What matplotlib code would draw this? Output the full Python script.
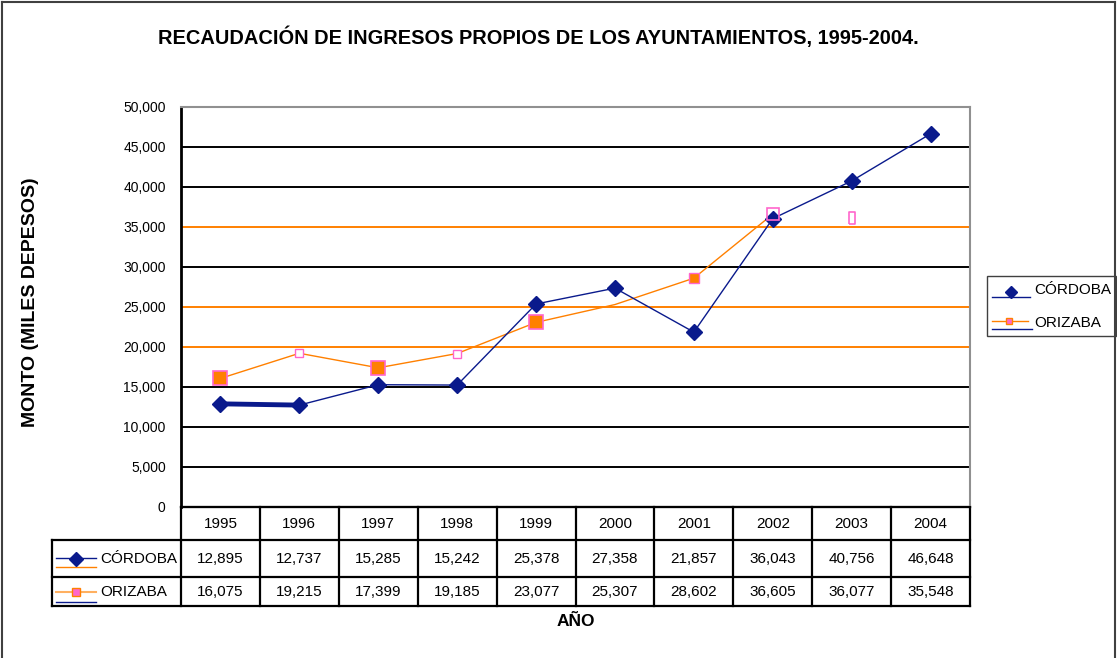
import matplotlib
matplotlib.use("Agg")
import matplotlib.pyplot as plt
from matplotlib.lines import Line2D
from matplotlib.patches import Rectangle

years = ["1995", "1996", "1997", "1998", "1999", "2000", "2001", "2002", "2003", "2004"]
cordoba = [12895, 12737, 15285, 15242, 25378, 27358, 21857, 36043, 40756, 46648]
orizaba = [16075, 19215, 17399, 19185, 23077, 25307, 28602, 36605, 36077, 35548]
yticks = [0, 5000, 10000, 15000, 20000, 25000, 30000, 35000, 40000, 45000, 50000]
orange_grid = [20000, 25000, 35000]

NAVY = "#0a1a8c"
ORANGE = "#ff8000"
PINK = "#ff66cc"
W, H = 1117, 658

plt.rcParams["font.family"] = ["Liberation Sans", "DejaVu Sans"]

fig = plt.figure(figsize=(W / 100, H / 100), dpi=100)
fig.patch.set_facecolor("white")


def fx(px):
    return px / W


def fy(py):
    return 1 - py / H


# plot area 181..970 x 107..507 px
ax = fig.add_axes([fx(181), fy(507), fx(970) - fx(181), fy(107) - fy(507)])
ax.set_xlim(-0.5, len(years) - 0.5)
ax.set_ylim(0, 50000)
ax.set_xticks([])
ax.set_yticks(yticks)
ax.set_yticklabels([f"{v:,}" for v in yticks], fontsize=10)
ax.tick_params(axis="y", length=0, pad=11)

for s in ["top", "right"]:
    ax.spines[s].set_color("#909090")
    ax.spines[s].set_linewidth(1.5)
ax.spines["left"].set_color("black")
ax.spines["left"].set_linewidth(2)
ax.spines["bottom"].set_color("black")
ax.spines["bottom"].set_linewidth(1.5)

for v in yticks[1:-1]:
    ax.axhline(v, color=ORANGE if v in orange_grid else "black", lw=1.4, zorder=1)

x = list(range(len(years)))

# CÓRDOBA series
ax.plot(x, cordoba, color=NAVY, lw=1, marker="D", markersize=8.5, zorder=4)
ax.plot(x[:2], cordoba[:2], color=NAVY, lw=3.5, zorder=4)

# ORIZABA series: line stops at 2002, mixed markers
ax.plot(x[:8], orizaba[:8], color=ORANGE, lw=1, zorder=3)
big = [0, 2, 4]
ax.plot([x[i] for i in big], [orizaba[i] for i in big], ls="none", marker="s",
        markersize=10, markerfacecolor=ORANGE, markeredgecolor=PINK, markeredgewidth=1.2, zorder=5)
ax.plot([x[6]], [orizaba[6]], ls="none", marker="s", markersize=7,
        markerfacecolor=ORANGE, markeredgecolor=PINK, markeredgewidth=1, zorder=5)
small = [1, 3]
ax.plot([x[i] for i in small], [orizaba[i] for i in small], ls="none", marker="s",
        markersize=6, markerfacecolor="white", markeredgecolor=PINK, markeredgewidth=1, zorder=5)
ax.plot([x[7]], [orizaba[7]], ls="none", marker="s", markersize=8,
        markerfacecolor="none", markeredgecolor=PINK, markeredgewidth=1.2, zorder=5)
ax.plot([x[8]], [orizaba[8]], ls="none", marker=[(-0.5, -1), (0.5, -1), (0.5, 1), (-0.5, 1), (-0.5, -1)],
        markersize=8, markerfacecolor="none", markeredgecolor=PINK, markeredgewidth=1.2, zorder=5)

# data table below the plot
tr = ax.get_xaxis_transform()


def ay(py):
    return (507 - py) / 400


rows = [507, 540, 577, 606]
xlab = -0.5 - (181 - 52) / (789 / len(years))
lw_t = 1.6
ax.plot([-0.5, len(years) - 0.5], [ay(507)] * 2, color="black", lw=lw_t, transform=tr, clip_on=False)
for py in rows[1:]:
    ax.plot([xlab, len(years) - 0.5], [ay(py)] * 2, color="black", lw=lw_t, transform=tr, clip_on=False)
for i in range(len(years) + 1):
    ax.plot([i - 0.5] * 2, [ay(507), ay(606)], color="black", lw=lw_t, transform=tr, clip_on=False)
ax.plot([xlab] * 2, [ay(540), ay(606)], color="black", lw=lw_t, transform=tr, clip_on=False)

for i, yr in enumerate(years):
    ax.text(i, ay(523.5), yr, ha="center", va="center", fontsize=11, transform=tr)
    ax.text(i, ay(559), f"{cordoba[i]:,}", ha="center", va="center", fontsize=11, transform=tr)
    ax.text(i, ay(592), f"{orizaba[i]:,}", ha="center", va="center", fontsize=11, transform=tr)

# row label keys
fig.add_artist(Line2D([fx(56), fx(96)], [fy(558), fy(558)], color=NAVY, lw=1))
fig.add_artist(Line2D([fx(56), fx(96)], [fy(567), fy(567)], color=ORANGE, lw=1))
fig.add_artist(Line2D([fx(76)], [fy(559)], color=NAVY, marker="D", markersize=7))
fig.add_artist(Line2D([fx(56), fx(96)], [fy(592), fy(592)], color="#ffb060", lw=1.5))
fig.add_artist(Line2D([fx(56), fx(96)], [fy(602), fy(602)], color=NAVY, lw=1))
fig.add_artist(Line2D([fx(76)], [fy(592)], color=ORANGE, marker="s", markersize=6,
                      markerfacecolor=PINK, markeredgecolor=ORANGE))
fig.text(fx(100), fy(559), "CÓRDOBA", ha="left", va="center", fontsize=11)
fig.text(fx(100), fy(592), "ORIZABA", ha="left", va="center", fontsize=11)

# legend box at right
fig.add_artist(Rectangle((fx(987), fy(336)), fx(1116) - fx(987), fy(276) - fy(336),
                         facecolor="white", edgecolor="#404040", lw=1))
fig.add_artist(Line2D([fx(992), fx(1030)], [fy(297), fy(297)], color=NAVY, lw=1))
fig.add_artist(Line2D([fx(1011)], [fy(292)], color=NAVY, marker="D", markersize=6))
fig.add_artist(Line2D([fx(992), fx(1028)], [fy(321), fy(321)], color=ORANGE, lw=1))
fig.add_artist(Line2D([fx(992), fx(1032)], [fy(329), fy(329)], color=NAVY, lw=1))
fig.add_artist(Line2D([fx(1009)], [fy(321)], color=ORANGE, marker="s", markersize=5,
                      markerfacecolor=PINK, markeredgecolor=ORANGE))
fig.text(fx(1034), fy(290), "CÓRDOBA", ha="left", va="center", fontsize=11)
fig.text(fx(1034), fy(323), "ORIZABA", ha="left", va="center", fontsize=11)

# titles
fig.text(fx(538), fy(37), "RECAUDACIÓN DE INGRESOS PROPIOS DE LOS AYUNTAMIENTOS, 1995-2004.",
         ha="center", va="center", fontsize=14.4, fontweight="bold")
fig.text(fx(31), fy(302), "MONTO (MILES DEPESOS)", ha="center", va="center",
         rotation=90, fontsize=14, fontweight="bold")
fig.text(fx(576), fy(622), "AÑO", ha="center", va="center", fontsize=12.5, fontweight="bold")

# outer chart border (bottom edge runs off the image)
border = dict(color="#404040", lw=1.5)
fig.add_artist(Line2D([fx(1.5), fx(1115)], [fy(1.5), fy(1.5)], **border))
fig.add_artist(Line2D([fx(1.5), fx(1.5)], [fy(1.5), 0], **border))
fig.add_artist(Line2D([fx(1115), fx(1115)], [fy(1.5), 0], **border))

fig.savefig("out.png", dpi=100)
